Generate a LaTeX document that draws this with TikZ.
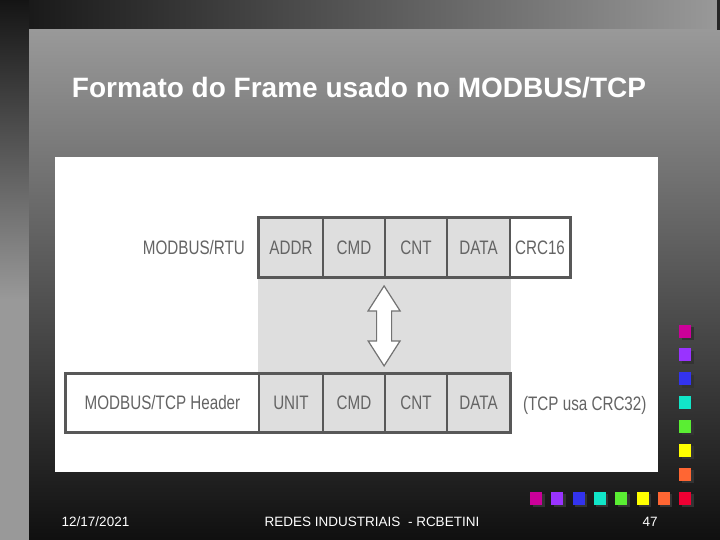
\documentclass[tikz,border=0pt]{standalone}
\usepackage{fontspec}
\setmainfont{Liberation Sans}
\newfontfamily\narrowfont[FakeStretch=0.78]{Liberation Sans}
\usetikzlibrary{calc}
\definecolor{celltext}{RGB}{100,100,100}
\definecolor{cellline}{RGB}{88,88,88}
\definecolor{cellfill}{RGB}{222,222,222}
\definecolor{bgtop}{RGB}{153,153,153}
\definecolor{bgmid}{RGB}{88,88,88}
\definecolor{bgbot}{RGB}{16,16,16}
\definecolor{sqmag}{RGB}{204,0,153}
\definecolor{sqpur}{RGB}{153,51,255}
\definecolor{sqblu}{RGB}{51,51,238}
\definecolor{sqcya}{RGB}{17,230,200}
\definecolor{sqgre}{RGB}{90,238,51}
\definecolor{sqyel}{RGB}{255,255,0}
\definecolor{sqora}{RGB}{255,102,51}
\definecolor{sqred}{RGB}{238,0,51}
\begin{document}
\begin{tikzpicture}[x=1pt,y=-1pt,
  cell/.style={draw=cellline, line width=1.8pt, fill=cellfill, inner sep=0pt,
    minimum height=59pt, text=celltext, font=\narrowfont\fontsize{19.5}{22}\selectfont},
  whitecell/.style={cell, fill=white},
  rowframe/.style={draw=cellline, line width=3pt},
  lbl/.style={text=celltext, inner sep=0pt, font=\narrowfont\fontsize{19.5}{22}\selectfont},
  foot/.style={text=white, inner sep=0pt, font=\fontsize{13.5}{16}\selectfont},
  bigarrow/.style={draw=black!55, line width=1.2pt, fill=white, line join=miter},
  sq/.style={minimum width=12pt, minimum height=13pt}
]
\useasboundingbox (0,0) rectangle (720,540);
% background
\fill[bgbot] (0,0) rectangle (720,540);
\shade[left color=black!92, right color=bgtop] (0,0) rectangle (720,30);
\shade[top color=black!92, bottom color=bgtop] (0,0) rectangle (29,300);
\fill[bgtop] (0,300) rectangle (29,540);
\shade[top color=bgtop, middle color=bgmid, bottom color=bgbot] (29,30) rectangle (720,538);
\fill[black!85] (717,0) rectangle (720,30);
% title
\node[text=white, font=\bfseries\fontsize{28}{31}\selectfont, inner sep=0pt] (title) at (359,88) {Formato do Frame usado no MODBUS/TCP};
% picture area
\fill[white] (55,157) rectangle (658,472);
% RTU row
\node[cell, minimum width=64pt] (addr) at (291,247.5) {ADDR};
\node[cell, minimum width=62pt] (cmd) at (354,247.5) {CMD};
\node[cell, minimum width=62pt] (cnt) at (416,247.5) {CNT};
\node[cell, minimum width=63pt] (data) at (478.5,247.5) {DATA};
\node[whitecell, minimum width=60pt] (crc) at (540,247.5) {CRC16};
% TCP row
\node[whitecell, minimum width=193pt, minimum height=58pt] (hdr) at (162.5,403) {MODBUS/TCP Header};
\node[cell, minimum width=64pt, minimum height=58pt] (unit) at (291,403) {UNIT};
\node[cell, minimum width=62pt, minimum height=58pt] (tcmd) at (354,403) {CMD};
\node[cell, minimum width=62pt, minimum height=58pt] (tcnt) at (416,403) {CNT};
\node[cell, minimum width=63pt, minimum height=58pt] (tdata) at (478.5,403) {DATA};
% shaded band between the rows
\fill[cellfill] ($(addr.south west)+(0,1)$) rectangle ($(tdata.north east)+(0,-1)$);
% row frames
\draw[rowframe] (addr.north west) rectangle (crc.south east);
\draw[rowframe] (hdr.north west) rectangle (tdata.south east);
% labels
\node[lbl, anchor=east] (rtu) at ($(addr.west)+(-13,0.5)$) {MODBUS/RTU};
\node[lbl, anchor=west] (crc32) at ($(tdata.east)+(12,2)$) {(TCP usa CRC32)};
% double arrow
\coordinate (atop) at ($(cnt.south west)+(0,8)$);
\draw[bigarrow] (atop) -- ++(16,25) -- ++(-8.5,0) -- ++(0,30) -- ++(8.5,0)
  -- ++(-16,25) -- ++(-16,-25) -- ++(8.5,0) -- ++(0,-30) -- ++(-8.5,0) -- cycle;
% footer
\node[foot] (date) at (95.5,522) {12/17/2021};
\node[foot] (course) at (372,522) {REDES INDUSTRIAIS \ - RCBETINI};
\node[foot] (page) at (650,522) {47};
% coloured squares
\foreach \c [count=\i from 0] in {sqmag,sqpur,sqblu,sqcya,sqgre,sqyel,sqora,sqred} {
  \fill[black!80] ({536+21.3*\i-6+2.5},{498-6.5+2.5}) rectangle ++(12,13);
  \fill[\c] ({536+21.3*\i-6},{498-6.5}) rectangle ++(12,13);
}
\foreach \c [count=\i from 0] in {sqmag,sqpur,sqblu,sqcya,sqgre,sqyel,sqora} {
  \fill[black!80] ({685-6+2.5},{331+23.86*\i-6.5+2.5}) rectangle ++(12,13);
  \fill[\c] ({685-6},{331+23.86*\i-6.5}) rectangle ++(12,13);
}
\end{tikzpicture}
\end{document}
